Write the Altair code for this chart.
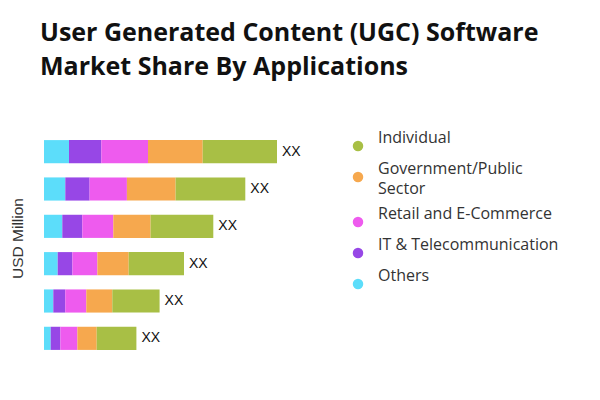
import altair as alt
import pandas as pd

# Data (arbitrary units proportional to bar length)
bars = ["B1", "B2", "B3", "B4", "B5", "B6"]
segments = ["Individual", "Government/Public Sector", "Retail and E-Commerce",
            "IT & Telecommunication", "Others"]
stack_order = ["Others", "IT & Telecommunication", "Retail and E-Commerce",
               "Government/Public Sector", "Individual"]
colors = ["#A8BF45", "#F6A84E", "#EE5BEE", "#9747E6", "#5CDDFA"]

others = [25.0, 21.3, 18.3, 13.7, 9.3, 6.7]
it_tel = [32.3, 24.3, 20.0, 14.7, 12.0, 9.7]
retail = [46.7, 37.3, 31.0, 25.0, 21.0, 17.0]
government = [54.7, 48.7, 37.3, 31.3, 26.0, 19.3]
individual = [74.3, 69.7, 62.7, 55.3, 47.3, 39.7]
bar_label = "XX"

series = {
    "Others": others,
    "IT & Telecommunication": it_tel,
    "Retail and E-Commerce": retail,
    "Government/Public Sector": government,
    "Individual": individual,
}

rows = []
for seg, vals in series.items():
    for b, v in zip(bars, vals):
        rows.append({"bar": b, "segment": seg, "value": v,
                     "order": stack_order.index(seg)})
df = pd.DataFrame(rows)

totals = pd.DataFrame({
    "bar": bars,
    "total": [sum(series[s][i] for s in series) for i in range(len(bars))],
    "label": [bar_label] * len(bars),
})

x_scale = alt.Scale(domain=[0, 290], nice=False, zero=True)
y_enc = alt.Y("bar:N", sort=bars,
              scale=alt.Scale(paddingInner=0.38, paddingOuter=0.19),
              axis=alt.Axis(title="USD Million", labels=False, ticks=False,
                            domain=False, grid=False, titleFont="Liberation Sans",
                            titleFontSize=15.5, titleFontWeight="normal",
                            titleColor="#333333", titlePadding=19, titleY=105))

bars_chart = alt.Chart(df).mark_bar().encode(
    x=alt.X("value:Q", stack="zero", scale=x_scale, axis=None),
    y=y_enc,
    color=alt.Color("segment:N",
                    scale=alt.Scale(domain=segments, range=colors),
                    legend=alt.Legend(
                        title=None, orient="none", legendX=306, legendY=5,
                        symbolType="circle", symbolSize=110, symbolStrokeWidth=0,
                        labelFont="Open Sans", labelFontSize=16,
                        labelColor="#333333", labelOffset=12,
                        labelBaseline="bottom", labelLimit=300,
                        rowPadding=9, padding=0,
                        labelExpr="datum.label == 'Government/Public Sector' ? ['Government/Public', 'Sector'] : datum.label")),
    order=alt.Order("order:Q"),
)

text_chart = alt.Chart(totals).mark_text(
    align="left", baseline="middle", dx=5, font="Liberation Sans",
    fontSize=14, color="#111111"
).encode(
    x=alt.X("total:Q", scale=x_scale, axis=None),
    y=alt.Y("bar:N", sort=bars),
    text="label:N",
)

chart = alt.layer(bars_chart, text_chart).properties(
    width=290, height=224,
    autosize=alt.AutoSizeParams(type="none"),
    padding={"left": 36, "top": 125, "right": 258, "bottom": 35},
    background="white",
    title=alt.TitleParams(
        text=["User Generated Content (UGC) Software", "Market Share By Applications"],
        anchor="start", frame="group", font="Open Sans", fontSize=25,
        fontWeight="bold", color="#111111", lineHeight=34, offset=53, dx=-4),
).configure(
    style={"guide-label": {"lineHeight": 20}},
    view=alt.ViewConfig(strokeWidth=0, stroke="transparent"),
)

chart.save("out.html", embed_options={"renderer": "svg", "actions": False})
